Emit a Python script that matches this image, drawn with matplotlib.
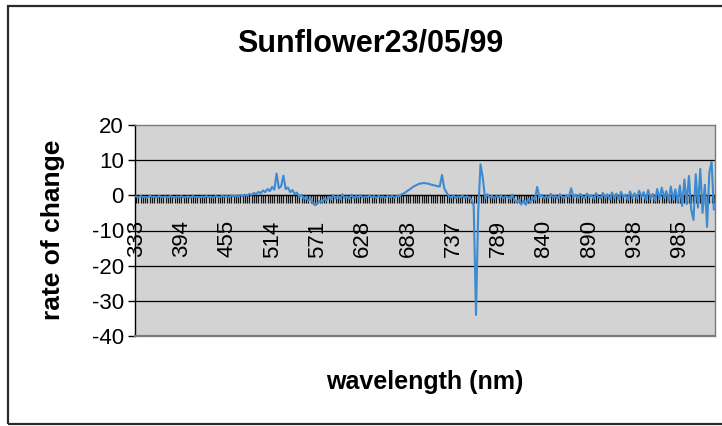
import matplotlib
matplotlib.use("Agg")
import matplotlib.pyplot as plt
from matplotlib.patches import Rectangle
from matplotlib.ticker import FixedLocator, FixedFormatter
import numpy as np

plt.rcParams['font.family'] = ['Liberation Sans', 'DejaVu Sans']
plt.rcParams['axes.unicode_minus'] = False

title = "Sunflower23/05/99"
x_label = "wavelength (nm)"
y_label = "rate of change"

# wavelength labels shown every 20 spectral channels
wavelength_labels = ["333", "394", "455", "514", "571", "628", "683",
                     "737", "789", "840", "890", "938", "985"]
label_step = 20

y_ticks = [20, 10, 0, -10, -20, -30, -40]

# rate of change per spectral channel
rate_of_change = [
    -0.3, -0.6, -0.2, -0.5, -0.4, -0.7, -0.1, -0.5, -0.3, -0.6, -0.2, -0.4, -0.5, -0.3, -0.6, -0.2,
    -0.4, -0.7, -0.3, -0.5, -0.2, -0.6, -0.4, -0.3, -0.7, -0.2, -0.5, -0.4, -0.6, -0.3, -0.5, -0.2,
    -0.5, -0.3, -0.6, -0.2, -0.4, -0.5, -0.1, -0.4, -0.2, -0.5, 0.0, -0.3, -0.1, -0.4, 0.1, -0.2,
    0.2, -0.1, 0.4, 0.1, 0.7, 0.3, 1.0, 0.6, 1.4, 0.9, 1.8, 1.2, 2.4, 1.6, 6.2, 2.0,
    2.6, 5.6, 1.8, 2.2, 0.9, 1.5, 0.3, 0.8, -0.4, 0.2, -1.0, -0.3, -1.6, -0.8, -2.2, -2.8,
    -2.4, -1.6, -2.0, -0.9, -1.5, -0.4, -1.2, 0.1, -0.9, -0.2, -1.1, 0.3, -0.7, -0.3, -1.0, 0.2,
    -0.8, -0.2, -0.6, 0.1, -0.7, -0.3, -0.5, 0.0, -0.6, -0.2, -0.8, -0.1, -0.5, -0.3, -0.7, -0.2,
    -0.5, -0.1, -0.6, -0.2, -0.3, 0.2, 0.5, 0.9, 1.4, 1.8, 2.3, 2.7, 3.0, 3.3, 3.4, 3.5,
    3.4, 3.3, 3.1, 2.9, 2.8, 2.6, 2.5, 5.8, 2.0, 0.8, -0.2, -0.6, 0.0, -0.8, -0.3, -0.5,
    -0.1, -0.7, -0.3, -0.6, -1.2, -3.0, -34.0, -4.5, 8.8, 5.0, -0.8, 0.3, -0.6, -0.1, -0.9, -0.2,
    -0.6, 0.0, -0.8, -0.3, -0.5, -1.0, 0.2, -1.4, -2.0, -1.2, -2.6, -1.5, -2.7, -1.0, -2.2, -0.6,
    -1.3, 2.4, -0.5, 0.2, -0.9, -0.2, -0.7, 0.4, -0.6, -0.1, -0.9, 0.3, -0.4, -0.8, 0.1, -0.5,
    2.0, -0.6, 0.2, -0.8, 0.4, -0.3, -0.9, 0.5, -0.5, 0.1, -1.0, 0.6, -0.4, -0.9, 0.7, -0.6,
    0.3, -1.1, 0.8, -0.7, 0.5, -1.2, 1.0, -0.5, 0.2, -1.3, 1.1, -0.8, 0.6, -1.0, 1.3, -0.4,
    0.9, -1.4, 1.5, -0.9, 0.4, -1.6, 1.8, -1.1, 2.2, -0.7, 1.2, -1.8, 2.5, -1.2, 1.7, -2.0,
    2.8, -3.0, 4.5, -2.5, 5.5, -4.0, -7.0, 6.0, -3.5, 7.5, -5.0, 3.0, -9.0, 6.5, 9.5, -4.0,
]

W, H = 722, 426
fig = plt.figure(figsize=(W / 100, H / 100), dpi=100)
fig.patch.set_facecolor("white")

# chart border
fig.patches.append(Rectangle((8 / W, 2 / H), 1.02, (H - 8) / H,
                             transform=fig.transFigure, fill=False,
                             edgecolor="#2a2a2a", linewidth=1.6, zorder=0))

ax = fig.add_axes([135 / W, (H - 336) / H, 580 / W, 211 / H])
ax.set_facecolor("#d3d3d3")

n = len(rate_of_change)
x = np.arange(n)
ax.plot(x, rate_of_change, color="#3d8ad0", linewidth=1.5, zorder=5)

ax.set_xlim(-0.5, n - 0.5)
ax.set_ylim(-40, 20)

# value axis
ax.set_yticks(y_ticks)
ax.tick_params(axis="y", direction="out", length=5, width=1, labelsize=16,
               color="black", pad=3)
for yv in y_ticks[1:-1]:
    ax.axhline(yv, color="black", linewidth=0.9, zorder=1)

# category axis crossing at zero
ax.spines["bottom"].set_position(("data", 0))
ax.spines["bottom"].set_color("black")
ax.spines["bottom"].set_linewidth(0.9)
ax.spines["bottom"].set_zorder(2)
ax.spines["left"].set_color("black")
ax.spines["left"].set_linewidth(1.0)
for side in ("top", "right"):
    ax.spines[side].set_color("#7a7a7a")
    ax.spines[side].set_linewidth(1.0)
ax.axhline(-40, color="#7a7a7a", linewidth=1.6, zorder=3, clip_on=False)

major_pos = list(range(0, n, label_step))[:len(wavelength_labels)]
ax.xaxis.set_major_locator(FixedLocator(major_pos))
ax.xaxis.set_major_formatter(FixedFormatter(wavelength_labels))
ax.xaxis.set_minor_locator(FixedLocator(list(x)))
ax.tick_params(axis="x", which="both", direction="out", length=6, width=0.9,
               color="#111111")
ax.tick_params(axis="x", which="major", labelsize=16, labelrotation=90, pad=12)

# titles
fig.text(370 / W, 1 - 44 / H, title, ha="center", va="center",
         fontsize=22, fontweight="bold")
fig.text(425 / W, 1 - 382 / H, x_label, ha="center", va="center",
         fontsize=18, fontweight="bold")
fig.text(53 / W, 1 - 230 / H, y_label, ha="center", va="center",
         rotation=90, fontsize=19, fontweight="bold")

fig.savefig("out.png", dpi=100)
